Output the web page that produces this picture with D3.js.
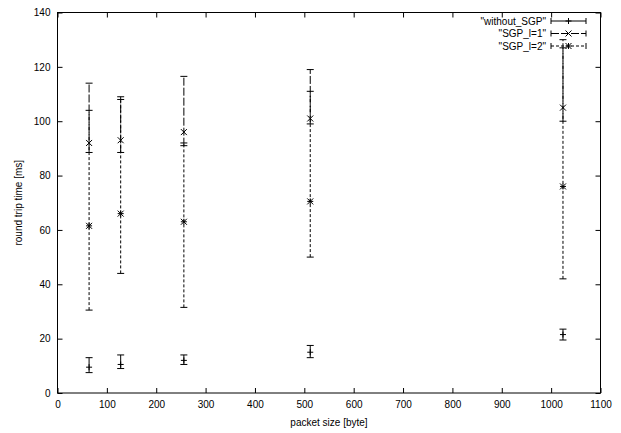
<!DOCTYPE html>
<html>
<head>
<meta charset="utf-8">
<script src="https://cdn.jsdelivr.net/npm/d3@7"></script>
<style>
  html, body { margin: 0; padding: 0; background: #fff; }
  svg { display: block; }
  text { font-family: "Liberation Sans", Arial, sans-serif; fill: #000; }
</style>
</head>
<body>
<svg id="chart" width="621" height="433"></svg>
<script>
// ---- data ----
const packetSizes = [64, 128, 256, 512, 1024];
const withoutY    = [9.5, 10.5, 12, 15, 21.5];
const withoutLow  = [7.5, 9, 10.5, 13, 19.5];
const withoutHigh = [13, 14, 14, 17.5, 23.5];
const l1Y    = [92, 93, 96, 101, 105];
const l1Low  = [88.5, 88.5, 91, 99, 100];
const l1High = [114, 109, 116.5, 119, 130];
const l2Y    = [61.5, 66, 63, 70.5, 76];
const l2Low  = [30.5, 44, 31.5, 50, 42];
const l2High = [104, 108, 92, 111, 127];
const seriesNames = ['"without_SGP"', '"SGP_l=1"', '"SGP_l=2"'];
const xTicks = [0, 100, 200, 300, 400, 500, 600, 700, 800, 900, 1000, 1100];
const yTicks = [0, 20, 40, 60, 80, 100, 120, 140];

const svg = d3.select("#chart");
const L = 57.5, R = 600.5, T = 12.5, B = 393;
const x = d3.scaleLinear().domain([0, 1100]).range([L, R]);
const y = d3.scaleLinear().domain([0, 140]).range([B, T]);

// axes (gnuplot style inward ticks, mirrored)
const fs = "10px";
const gx = svg.append("g").attr("transform", `translate(0,${B})`)
  .call(d3.axisBottom(x).tickValues(xTicks).tickFormat(d3.format("d")).tickSizeInner(-5).tickSizeOuter(0).tickPadding(8));
const gy = svg.append("g").attr("transform", `translate(${L},0)`)
  .call(d3.axisLeft(y).tickValues(yTicks).tickFormat(d3.format("d")).tickSizeInner(-5).tickSizeOuter(0).tickPadding(7));
const gt = svg.append("g").attr("transform", `translate(0,${T})`)
  .call(d3.axisTop(x).tickValues(xTicks).tickFormat("").tickSizeInner(-5).tickSizeOuter(0));
const gr = svg.append("g").attr("transform", `translate(${R},0)`)
  .call(d3.axisRight(y).tickValues(yTicks).tickFormat("").tickSizeInner(-5).tickSizeOuter(0));
[gx, gy, gt, gr].forEach(g => {
  g.selectAll(".domain").remove();
  g.selectAll("line").attr("stroke", "#000");
  g.selectAll("text").style("font-size", fs).style("font-family", '"Liberation Sans", Arial, sans-serif').attr("fill", "#000");
});
svg.append("rect").attr("x", L).attr("y", T).attr("width", R - L).attr("height", B - T)
  .attr("fill", "none").attr("stroke", "#000").attr("stroke-width", 1);

// axis titles
svg.append("text").attr("x", (L + R) / 2).attr("y", 426).attr("text-anchor", "middle")
  .style("font-size", fs).text("packet size [byte]");
svg.append("text").attr("transform", `translate(22,${(T + B) / 2}) rotate(-90)`)
  .attr("text-anchor", "middle").style("font-size", fs).text("round trip time [ms]");

// markers
function marker(g, type, cx, cy) {
  const s = 3;
  const p = d3.path();
  if (type === "plus" || type === "star") {
    p.moveTo(cx - s, cy); p.lineTo(cx + s, cy);
    p.moveTo(cx, cy - s); p.lineTo(cx, cy + s);
  }
  if (type === "cross" || type === "star") {
    p.moveTo(cx - s, cy - s); p.lineTo(cx + s, cy + s);
    p.moveTo(cx - s, cy + s); p.lineTo(cx + s, cy - s);
  }
  g.append("path").attr("d", p.toString()).attr("stroke", "#000").attr("stroke-width", 1).attr("fill", "none");
}

const series = [
  { ys: withoutY, lo: withoutLow, hi: withoutHigh, dash: null, mk: "plus" },
  { ys: l1Y, lo: l1Low, hi: l1High, dash: "8,2", mk: "cross" },
  { ys: l2Y, lo: l2Low, hi: l2High, dash: "3,2", mk: "star" }
];
const cap = 3.5;
series.forEach((s, si) => {
  const g = svg.append("g");
  packetSizes.forEach((p, i) => {
    const cx = x(p);
    g.append("line").attr("x1", cx).attr("x2", cx).attr("y1", y(s.lo[i])).attr("y2", y(s.hi[i]))
      .attr("stroke", "#000").attr("stroke-width", 1).attr("stroke-dasharray", s.dash);
    [s.lo[i], s.hi[i]].forEach(v => {
      g.append("line").attr("x1", cx - cap).attr("x2", cx + cap).attr("y1", y(v)).attr("y2", y(v))
        .attr("stroke", "#000").attr("stroke-width", 1);
    });
    marker(g, s.mk, cx, y(s.ys[i]));
  });
  // legend
  const ly = 21 + si * 12.5;
  svg.append("text").attr("x", 546).attr("y", ly).attr("dy", "0.35em").attr("text-anchor", "end")
    .style("font-size", fs).text(seriesNames[si]);
  const lg = svg.append("g");
  lg.append("line").attr("x1", 551).attr("x2", 586).attr("y1", ly).attr("y2", ly)
    .attr("stroke", "#000").attr("stroke-dasharray", s.dash);
  [551, 586].forEach(xx => lg.append("line").attr("x1", xx).attr("x2", xx).attr("y1", ly - 3).attr("y2", ly + 3).attr("stroke", "#000"));
  marker(lg, s.mk, 568.5, ly);
});
</script>
</body>
</html>
